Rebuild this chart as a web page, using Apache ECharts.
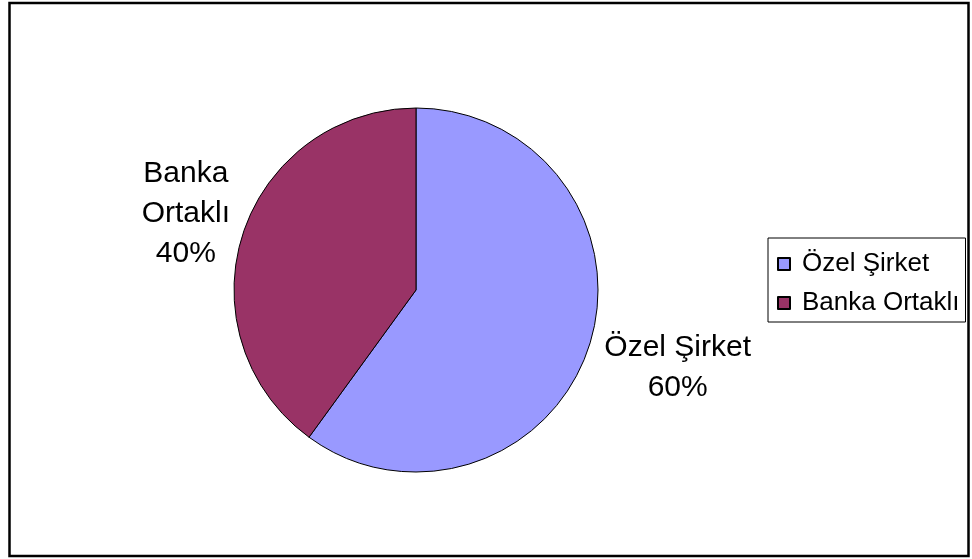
<!DOCTYPE html>
<html>
<head>
<meta charset="utf-8">
<script src="https://cdn.jsdelivr.net/npm/echarts@6/dist/echarts.min.js"></script>
<style>
  html, body { margin: 0; padding: 0; background: #fff; }
  #chart { width: 972px; height: 559px; }
</style>
</head>
<body>
<div id="chart"></div>
<script>
// dilimler
var categories = ["Özel Şirket", "Banka Ortaklı"];
var values = [60, 40];
var colors = ["#9999FF", "#993366"];
// etiket metni (Excel satır kırma)
var labelTexts = ["Özel Şirket\n60%", "Banka\nOrtaklı\n40%"];

var center = [416, 290];
var radius = 182;
// etiket merkezinin pasta merkezine uzaklığı ve küçük kaydırma
var labelDist = [272, 242];
var labelShift = [[3, -6], [0, -1]];

var total = values.reduce(function (a, b) { return a + b; }, 0);

function labelPos(i) {
  var before = 0;
  for (var k = 0; k < i; k++) before += values[k];
  var mid = (before + values[i] / 2) / total * Math.PI * 2; // saat yönü, tepeden
  return {
    x: center[0] + Math.sin(mid) * labelDist[i] + labelShift[i][0],
    y: center[1] - Math.cos(mid) * labelDist[i] + labelShift[i][1]
  };
}

var chart = echarts.init(document.getElementById("chart"));
chart.setOption({
  animation: false,
  textStyle: { fontFamily: "Liberation Sans, Arial, sans-serif" },
  graphic: [
    {
      type: "rect",
      shape: { x: 9.5, y: 3, width: 959, height: 553 },
      style: { fill: "none", stroke: "#000", lineWidth: 2.5 },
      silent: true
    }
  ],
  legend: {
    orient: "vertical",
    left: 768,
    top: 238,
    padding: [13, 6, 6, 9],
    itemGap: 13,
    itemWidth: 12,
    itemHeight: 12,
    icon: "rect",
    borderColor: "#000",
    borderWidth: 1,
    data: categories,
    textStyle: {
      color: "#000",
      fontSize: 26,
      lineHeight: 26,
      fontFamily: "Liberation Sans, Arial, sans-serif",
      padding: [0, 0, 0, 7]
    }
  },
  series: [
    {
      type: "pie",
      center: center,
      radius: radius,
      startAngle: 90,
      clockwise: true,
      silent: true,
      itemStyle: { borderColor: "#000", borderWidth: 1 },
      label: {
        show: true,
        position: "outside",
        color: "#000",
        fontSize: 30,
        lineHeight: 40,
        fontFamily: "Liberation Sans, Arial, sans-serif",
        formatter: function (p) { return labelTexts[p.dataIndex]; }
      },
      labelLine: { show: false },
      labelLayout: function (p) {
        var pos = labelPos(p.dataIndex);
        return { x: pos.x, y: pos.y, align: "center", verticalAlign: "middle" };
      },
      data: categories.map(function (c, i) {
        return { name: c, value: values[i], itemStyle: { color: colors[i] } };
      })
    }
  ]
});
</script>
</body>
</html>
